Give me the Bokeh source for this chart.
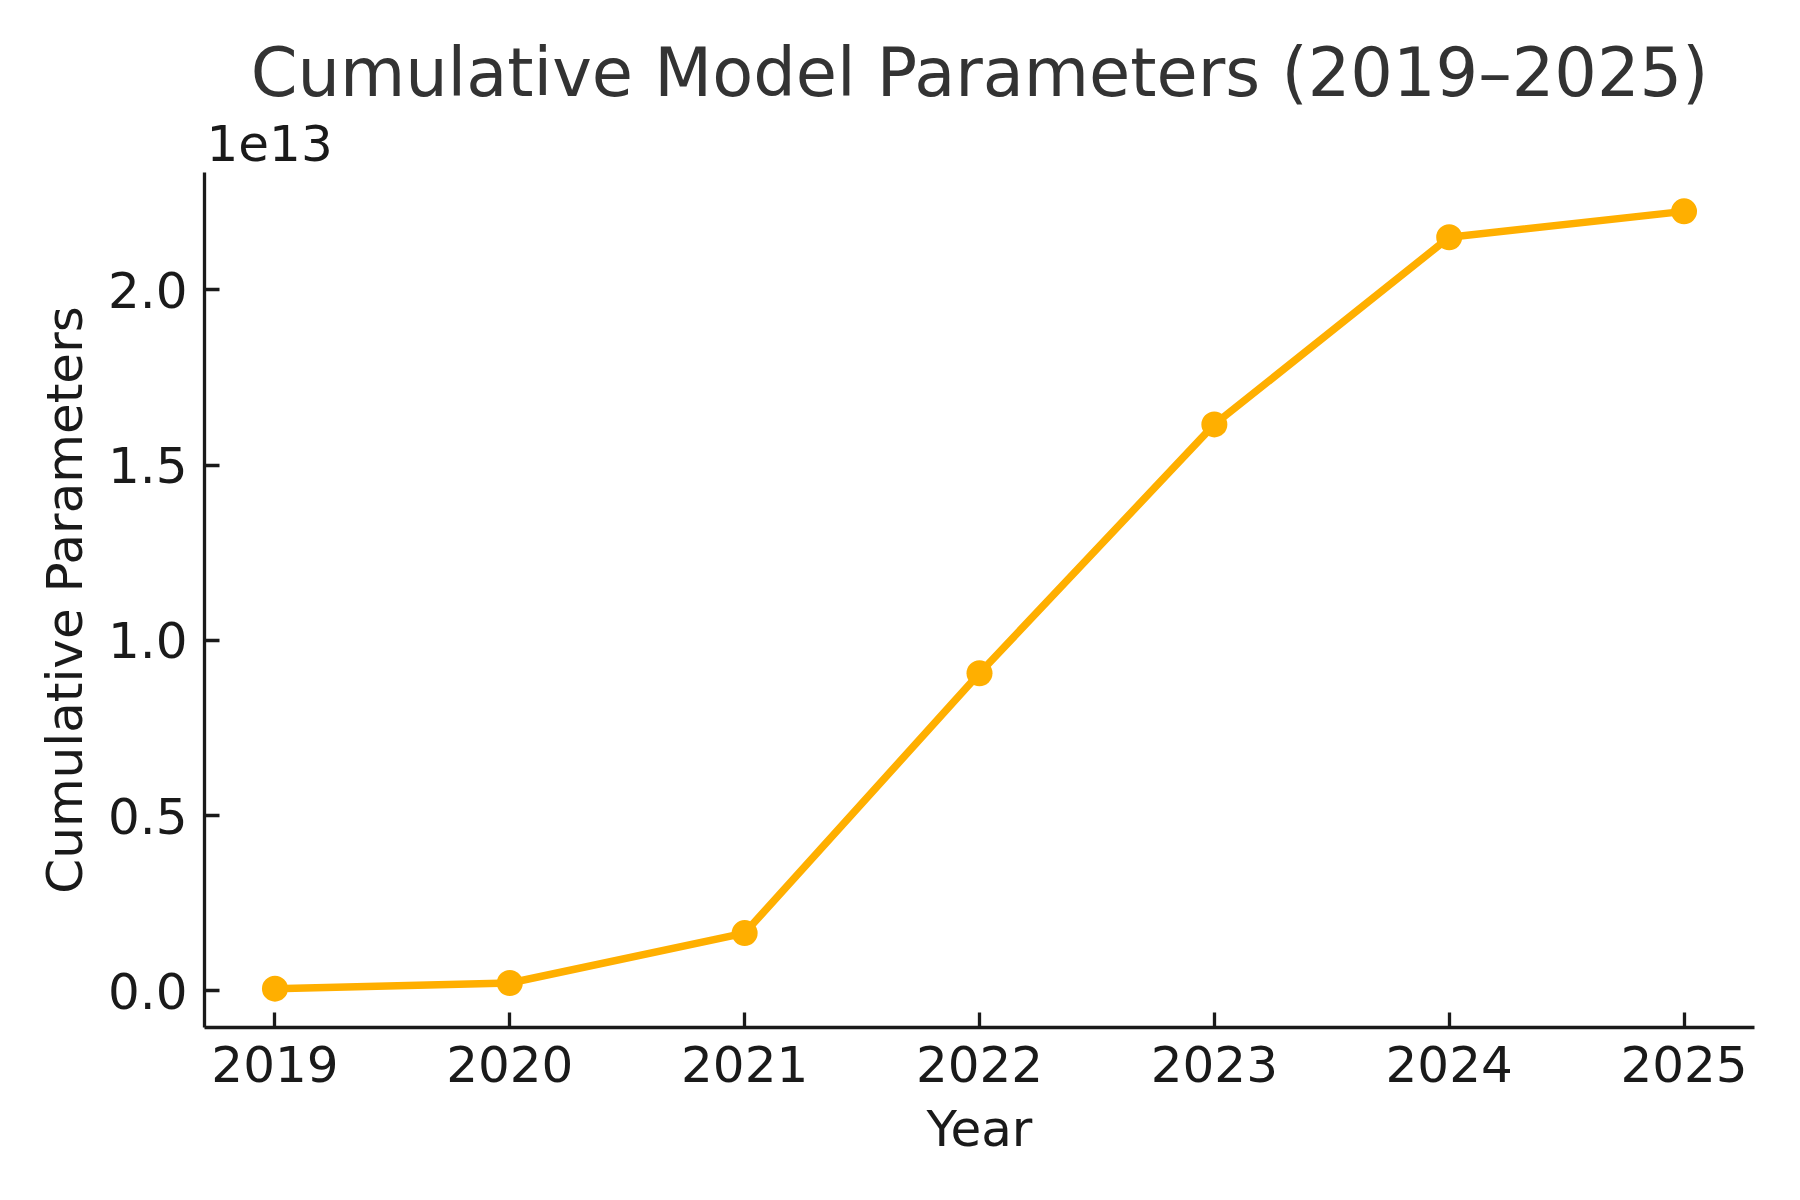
from bokeh.plotting import figure
from bokeh.models import Range1d, FixedTicker, CustomJSTickFormatter, Title
from bokeh.embed import file_html
from bokeh.resources import INLINE

years = [2019, 2020, 2021, 2022, 2023, 2024, 2025]
params = [0.006e13, 0.022e13, 0.1645e13, 0.906e13, 1.616e13, 2.150e13, 2.224e13]
y_ticks = [0.0, 0.5e13, 1.0e13, 1.5e13, 2.0e13]
title_text = "Cumulative Model Parameters (2019\u20132025)"
x_label = "Year"
y_label = "Cumulative Parameters"
exp_text = "1e13"

FONT = "DejaVu Sans"
DARK = "#1a1a1a"
ORANGE = "#FFAF00"

x_pad = (max(years) - min(years)) * 0.05
y_pad = (max(params) - min(params)) * 0.05
x0, x1 = min(years) - x_pad, max(years) + x_pad
y0, y1 = min(params) - y_pad, max(params) + y_pad

p = figure(width=1784, height=1184, output_backend="svg", toolbar_location=None,
           x_range=Range1d(x0, x1), y_range=Range1d(y0, y1), title=None,
           min_border_left=204, min_border_right=30, min_border_top=172, min_border_bottom=157)
p.outline_line_color = None
p.grid.visible = False
p.background_fill_color = "white"
p.border_fill_color = "white"

p.line(years, params, line_color=ORANGE, line_width=7.5)
p.scatter(years, params, size=26, fill_color=ORANGE, line_color=ORANGE, line_width=0)

for ax in (p.xaxis[0], p.yaxis[0]):
    ax.axis_line_color = DARK
    ax.axis_line_width = 3.3
    ax.major_tick_line_color = DARK
    ax.major_tick_line_width = 3.3
    ax.major_tick_in = 15
    ax.major_tick_out = 0
    ax.minor_tick_line_color = None
    ax.major_label_text_font = FONT
    ax.major_label_text_font_size = "50px"
    ax.major_label_text_color = DARK
    ax.axis_label_text_font = FONT
    ax.axis_label_text_font_size = "50px"
    ax.axis_label_text_color = DARK
    ax.axis_label_text_font_style = "normal"

p.xaxis[0].ticker = FixedTicker(ticks=years)
p.xaxis[0].major_label_standoff = 18
p.xaxis[0].axis_label = x_label
p.xaxis[0].axis_label_standoff = 15

p.yaxis[0].ticker = FixedTicker(ticks=y_ticks)
p.yaxis[0].formatter = CustomJSTickFormatter(code="return (tick/1e13).toFixed(1);")
p.yaxis[0].major_label_standoff = 17
p.yaxis[0].axis_label = y_label
p.yaxis[0].axis_label_standoff = 11

p.add_layout(Title(text=exp_text, align="left", text_font=FONT, text_font_size="50px",
                   text_color=DARK, text_font_style="normal", standoff=23, offset=2), "above")
p.add_layout(Title(text=title_text, align="center", text_font=FONT, text_font_size="67px",
                   text_color="#333333", text_font_style="normal", standoff=0), "above")

open("out.html", "w").write(file_html(p, INLINE))
